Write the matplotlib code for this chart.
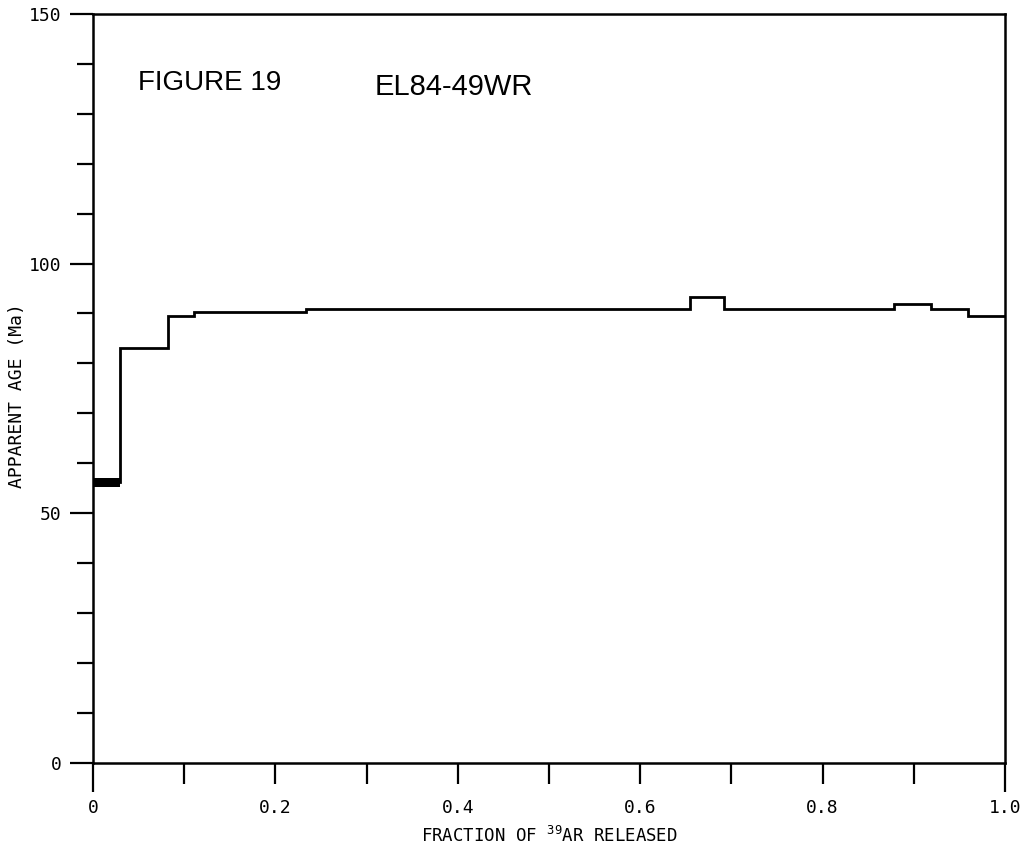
import numpy as np
import matplotlib
matplotlib.use("Agg")
import matplotlib.pyplot as plt

plt.rcParams['mathtext.default'] = 'regular'

# Step boundaries (fraction of 39Ar released) and apparent ages (Ma)
step_edges = [0.0, 0.030, 0.082, 0.111, 0.234, 0.655, 0.692, 0.878, 0.919, 0.959, 1.0]
step_ages = [56.2, 83.1, 89.5, 90.3, 91.0, 93.3, 91.0, 91.9, 90.9, 89.5]
# Error envelope of the first step
first_err = 0.9

x_major = [0, 0.2, 0.4, 0.6, 0.8, 1.0]
x_labels = ['0', '0.2', '0.4', '0.6', '0.8', '1.0']
x_minor = [0.1, 0.3, 0.5, 0.7, 0.9]
y_major = [0, 50, 100, 150]
y_minor = [10, 20, 30, 40, 60, 70, 80, 90, 110, 120, 130, 140]

mono = 'DejaVu Sans Mono'

fig = plt.figure(figsize=(10.29, 8.58), dpi=100)
ax = fig.add_axes([0.0904, 0.111, 0.8863, 0.8727])

# step spectrum
ax.stairs(step_ages, step_edges, color='black', linewidth=2, baseline=None)
ax.fill_between([step_edges[0], step_edges[1]],
                step_ages[0] - first_err, step_ages[0] + first_err,
                color='black', linewidth=0)

ax.set_xlim(0, 1.0)
ax.set_ylim(0, 150)

for s in ax.spines.values():
    s.set_linewidth(1.8)

ax.set_xticks(x_major)
ax.set_xticklabels(x_labels, fontfamily=mono, fontsize=13)
ax.set_xticks(x_minor, minor=True)
ax.set_yticks(y_major)
ax.set_yticklabels([str(v) for v in y_major], fontfamily=mono, fontsize=13)
ax.set_yticks(y_minor, minor=True)

ax.tick_params(axis='x', which='both', direction='out', length=15, width=1.6, pad=11)
ax.tick_params(axis='y', which='major', direction='out', length=16.5, width=1.6, pad=6)
ax.tick_params(axis='y', which='minor', direction='out', length=11.5, width=1.6)

# longer end ticks on the x axis
xt = ax.xaxis.get_major_ticks()
xt[0].tick1line.set_markersize(21)
xt[-1].tick1line.set_markersize(21)

ax.set_xlabel('FRACTION OF $^{39}$AR RELEASED', fontfamily=mono, fontsize=12.5)
ax.xaxis.set_label_coords(0.5, -0.084)
ax.set_ylabel('APPARENT AGE (Ma)', fontfamily=mono, fontsize=13)
ax.yaxis.set_label_coords(-0.074, 0.49)

ax.text(0.049, 0.899, 'FIGURE 19', transform=ax.transAxes, fontfamily='Liberation Sans',
        fontsize=20, va='baseline', ha='left')
ax.text(0.309, 0.892, 'EL84-49WR', transform=ax.transAxes, fontfamily='Liberation Sans',
        fontsize=21, va='baseline', ha='left')

fig.savefig('out.png', dpi=100)
